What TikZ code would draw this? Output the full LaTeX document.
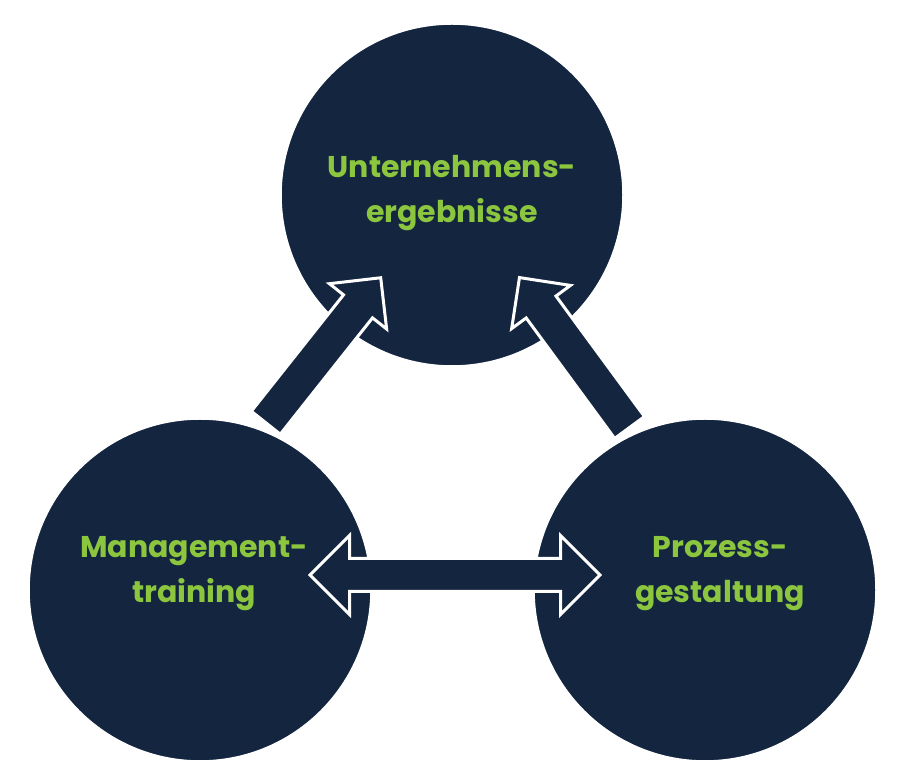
\documentclass[tikz,border=0pt]{standalone}
\usepackage{fontspec}
\setmainfont{Poppins}
\usetikzlibrary{shapes.arrows}
\definecolor{navy}{HTML}{14263F}
\definecolor{lgreen}{HTML}{8CC63F}
\begin{document}
\begin{tikzpicture}[x=1pt,y=1pt,
 circ/.style={circle,fill=navy,draw=white,line width=1.5pt,minimum size=342pt,inner sep=0pt},
 lbl/.style={text=lgreen,font=\fontsize{30}{45}\selectfont\bfseries,align=center},
 arr/.style={fill=navy,draw=white,line width=3pt,inner sep=17pt}]
\useasboundingbox (0,0) rectangle (900,771);
\node[circ] (top) at (452,576) {};
\node[circ] (ml) at (200,181) {};
\node[circ] (pg) at (705,181) {};
\node[lbl] (tt) at (452,578) {Unternehmens-\\ergebnisse};
\node[lbl] (mt) at (194,197) {Management-\\training};
\node[lbl] (pt) at (720,197) {Prozess-\\gestaltung};
\node[arr,single arrow,single arrow head extend=18pt,minimum height=185pt,rotate=51.6] (a1) at (317.5,413.5) {};
\node[arr,single arrow,single arrow head extend=18pt,minimum height=186pt,rotate=126.3] (a2) at (580,411) {};
\node[arr,double arrow,inner sep=15pt,double arrow head extend=23pt,minimum height=290pt] (a3) at (455,196) {};
\end{tikzpicture}
\end{document}
